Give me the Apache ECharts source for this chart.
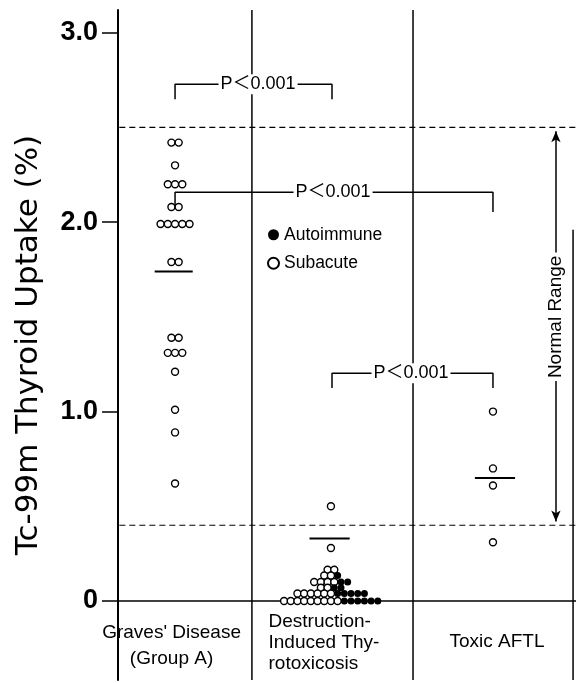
<!DOCTYPE html>
<html>
<head>
<meta charset="utf-8">
<script src="https://cdn.jsdelivr.net/npm/echarts@6/dist/echarts.min.js"></script>
<style>
  html, body { margin: 0; padding: 0; background: #fff; }
  #chart { width: 576px; height: 683px; }
</style>
</head>
<body>
<div id="chart"></div>
<script>
// values
var gravesValues = [2.42, 2.42, 2.30, 2.20, 2.20, 2.20, 2.08, 2.08,
  1.99, 1.99, 1.99, 1.99, 1.99, 1.79, 1.79, 1.39, 1.39,
  1.31, 1.31, 1.31, 1.21, 1.01, 0.89, 0.62];
var destrSubacute = [0.50, 0.28, 0.165, 0.165, 0.135, 0.135,
  0.10, 0.10, 0.10, 0.10, 0.07, 0.07,
  0.04, 0.04, 0.04, 0.04, 0.04, 0.04,
  0, 0, 0, 0, 0, 0, 0, 0, 0];
var destrAutoimmune = [0.135, 0.10, 0.10, 0.07, 0.07,
  0.04, 0.04, 0.04, 0.04, 0.04,
  0, 0, 0, 0, 0, 0];
var toxicValues = [1.00, 0.70, 0.61, 0.31];
var meanValues = [1.74, 0.33, 0.65];
var groupNames = ["Graves' Disease\n(Group A)", "Destruction-\nInduced Thy-\nrotoxicosis", "Toxic AFTL"];
var yTicks = [0, 1, 2, 3];
var normalRange = [0.4, 2.5];
var pLabel = "P＜0.001";

// layout (x in column units, 1 unit ~ 134px)
var X_MAX = 3.42, Y_MIN = -0.417, Y_MAX = 3.12;
var centers = [0.426, 1.59, 2.80];
var seps = [1.0, 2.203];
var stepG = 0.054, stepD = 0.05;
var FONT = "Liberation Sans, Noto Sans CJK JP, sans-serif";

// put dots of equal value side by side, open ones first
function stackRows(center, step, open, filled) {
  var rows = {};
  open.forEach(function (v) { (rows[v] = rows[v] || { o: 0, f: 0 }).o++; });
  (filled || []).forEach(function (v) { (rows[v] = rows[v] || { o: 0, f: 0 }).f++; });
  var outO = [], outF = [];
  Object.keys(rows).forEach(function (k) {
    var r = rows[k], n = r.o + r.f, v = parseFloat(k);
    for (var i = 0; i < n; i++) {
      var p = [center + (i - (n - 1) / 2) * step, v];
      (i < r.o ? outO : outF).push(p);
    }
  });
  return { open: outO, filled: outF };
}

var g = stackRows(centers[0], stepG, gravesValues);
var d = stackRows(centers[1], stepD, destrSubacute, destrAutoimmune);
var t = stackRows(centers[2], stepG, toxicValues);

var lineStyle = { color: "#000", width: 1.5 };
function seg(pts, style) {
  return {
    type: "line", data: pts, symbol: "none", silent: true,
    lineStyle: style || lineStyle, z: 1
  };
}
var openStyle = { color: "#fff", borderColor: "#000", borderWidth: 1.4, opacity: 1 };
var series = [];

// frame lines
series.push(seg([[0, 0], [X_MAX, 0]]));
series.push(seg([[seps[0], Y_MAX], [seps[0], Y_MIN]]));
series.push(seg([[seps[1], Y_MAX], [seps[1], Y_MIN]]));
series.push(seg([[3.398, 1.96], [3.398, Y_MIN]]));
normalRange.forEach(function (v) {
  series.push(seg([[0.01, v], [X_MAX, v]], { color: "#000", width: 1.2, type: [6, 4] }));
});

// brackets
series.push(seg([[centers[0], 2.649], [centers[0], 2.728], [1.598, 2.728], [1.598, 2.649]]));
series.push(seg([[centers[0], 2.09], [centers[0], 2.158], [centers[2], 2.158], [centers[2], 2.053]]));
series.push(seg([[1.598, 1.124], [1.598, 1.203], [centers[2], 1.203], [centers[2], 1.124]]));

// mean bars
var halfW = [0.142, 0.15, 0.15];
meanValues.forEach(function (m, i) {
  var c = i === 2 ? centers[2] + 0.015 : centers[i] - 0.01;
  series.push(seg([[c - halfW[i], m], [c + halfW[i], m]], { color: "#000", width: 2 }));
});

// normal range arrow
series.push({
  type: "line", data: [], silent: true,
  markLine: {
    silent: true, symbol: ["arrow", "arrow"], symbolSize: [7, 11],
    label: { show: false },
    lineStyle: { color: "#000", width: 1.5, type: "solid" },
    data: [[{ coord: [3.27, 2.48] }, { coord: [3.27, 0.42] }]]
  }
});

// dots
series.push({ type: "scatter", name: "Graves", data: g.open, symbolSize: 7, itemStyle: openStyle, z: 5 });
series.push({ type: "scatter", name: "Toxic", data: t.open, symbolSize: 7, itemStyle: openStyle, z: 5 });
series.push({ type: "scatter", name: "Subacute", data: d.open, symbolSize: 7, itemStyle: openStyle, z: 5 });
series.push({ type: "scatter", name: "Autoimmune", data: d.filled, symbolSize: 7, itemStyle: { color: "#000", opacity: 1 }, z: 5 });

// text labels sitting on the plot
function textAt(pt, text, extra) {
  var lab = Object.assign({
    show: true, position: "inside", formatter: text, color: "#000",
    fontFamily: FONT, fontSize: 19
  }, extra || {});
  return {
    type: "scatter", data: [pt], symbolSize: 1, silent: true,
    itemStyle: { color: "rgba(0,0,0,0)", opacity: 1 }, label: lab, z: 10
  };
}
var pBox = { backgroundColor: "#fff", padding: [1, 2], fontSize: 18 };
series.push(textAt([1.046, 2.728], pLabel, pBox));
series.push(textAt([1.606, 2.158], pLabel, pBox));
series.push(textAt([2.188, 1.203], pLabel, pBox));
series.push(textAt([3.27, 1.5], "Normal Range",
  { rotate: 90, backgroundColor: "#fff", padding: [0, 3], fontSize: 19 }));

series.push(textAt([0.40, -0.235], groupNames[0], { lineHeight: 26, align: "center" }));
series.push(textAt([1.12, -0.222], groupNames[1], { lineHeight: 21, align: "left", position: "right", distance: 0 }));
series.push(textAt([2.83, -0.216], groupNames[2], { align: "center" }));

var chart = echarts.init(document.getElementById("chart"));
chart.setOption({
  animation: false,
  grid: { left: 118, right: 0, top: 10, bottom: 3, outerBoundsMode: "none", containLabel: false },
  legend: {
    data: ["Autoimmune", "Subacute"], orient: "vertical", left: 262, top: 221,
    icon: "circle", itemWidth: 11, itemHeight: 11, itemGap: 11,
    textStyle: { fontSize: 17.5, color: "#000", fontFamily: FONT }
  },
  xAxis: { type: "value", min: 0, max: X_MAX, show: false },
  yAxis: {
    type: "value", min: Y_MIN, max: Y_MAX,
    name: "Tc-99m Thyroid Uptake (%)", nameLocation: "middle", nameGap: 74, nameRotate: 90,
    nameTextStyle: { fontSize: 31, color: "#000", fontFamily: "DejaVu Sans, sans-serif" },
    axisLine: { show: true, lineStyle: { color: "#000", width: 2 } },
    axisTick: { show: true, customValues: yTicks, length: 16, lineStyle: { color: "#000", width: 1.5 } },
    axisLabel: {
      customValues: yTicks, margin: 20, color: "#000", fontSize: 27, fontWeight: "bold",
      fontFamily: FONT,
      formatter: function (v) { return v === 0 ? "0" : v.toFixed(1); }
    },
    splitLine: { show: false }
  },
  series: series
});
</script>
</body>
</html>
